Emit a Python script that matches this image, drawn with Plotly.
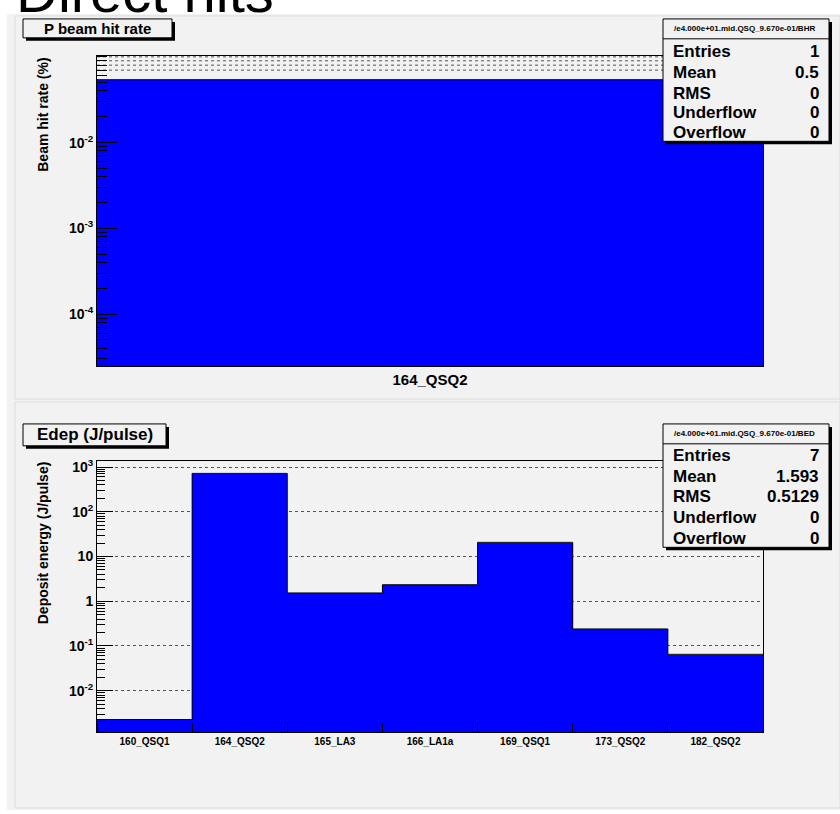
import numpy as np
import plotly.graph_objects as go

# ---- data -------------------------------------------------------------
hit_labels = ["164_QSQ2"]
hit_rate = [0.0542]                     # beam hit rate (%)

edep_labels = ["160_QSQ1", "164_QSQ2", "165_LA3", "166_LA1a",
               "169_QSQ1", "173_QSQ2", "182_QSQ2"]
edep_values = [0.00227, 720.0, 1.53, 2.34, 20.7, 0.24, 0.065]   # J/pulse

hit_tickvals = [1e-4, 1e-3, 1e-2]
hit_ticktext = ["10<sup>-4</sup>", "10<sup>-3</sup>", "10<sup>-2</sup>"]
hit_gridvals = [0.07, 0.08, 0.09, 0.1]
edep_tickvals = [1e-2, 1e-1, 1, 10, 1e2, 1e3]
edep_ticktext = ["10<sup>-2</sup>", "10<sup>-1</sup>", "1", "10",
                 "10<sup>2</sup>", "10<sup>3</sup>"]

hit_stats = [("Entries", "1"), ("Mean", "0.5"), ("RMS", "0"),
             ("Underflow", "0"), ("Overflow", "0")]
edep_stats = [("Entries", "7"), ("Mean", "1.593"), ("RMS", "0.5129"),
              ("Underflow", "0"), ("Overflow", "0")]
hit_stat_name = "/e4.000e+01.mid.QSQ_9.670e-01/BHR"
edep_stat_name = "/e4.000e+01.mid.QSQ_9.670e-01/BED"

# ---- helpers ----------------------------------------------------------
W, H = 840, 814
FONT = "Liberation Sans"
BLUE = "#0000ff"
PAD = "#f2f2f2"
GRID = "#555555"


def fx(px):
    return px / W


def fy(py):
    return 1 - py / H


def minor_log(lo_dec, hi_dec):
    return [k * 10.0 ** d for d in range(lo_dec, hi_dec + 1) for k in range(2, 10)]


fig = go.Figure()

# ---- top histogram: beam hit rate -------------------------------------
n1 = len(hit_rate)
fig.add_trace(go.Bar(x=np.arange(n1) + 0.5, y=hit_rate, width=1.0,
                     marker=dict(color=BLUE, line=dict(width=0)),
                     xaxis="x", yaxis="y", showlegend=False, hoverinfo="skip"))
fig.add_trace(go.Scatter(x=np.arange(n1 + 1), y=list(hit_rate) + [hit_rate[-1]],
                         mode="lines", line=dict(color="black", width=1, shape="hv"),
                         xaxis="x", yaxis="y", showlegend=False, hoverinfo="skip"))

# ---- bottom histogram: deposited energy -------------------------------
n2 = len(edep_values)
fig.add_trace(go.Bar(x=np.arange(n2) + 0.5, y=edep_values, width=1.0,
                     marker=dict(color=BLUE, line=dict(width=0)),
                     xaxis="x2", yaxis="y2", showlegend=False, hoverinfo="skip"))
fig.add_trace(go.Scatter(x=np.arange(n2 + 1), y=list(edep_values) + [edep_values[-1]],
                         mode="lines", line=dict(color="black", width=1, shape="hv"),
                         xaxis="x2", yaxis="y2", showlegend=False, hoverinfo="skip"))

frame = dict(showline=True, mirror=True, linecolor="black", linewidth=1,
             zeroline=False)

fig.update_layout(
    width=W, height=H,
    margin=dict(l=0, r=0, t=0, b=0),
    paper_bgcolor="white",
    plot_bgcolor="rgba(0,0,0,0)",
    bargap=0,
    font=dict(family=FONT, color="black"),
    xaxis=dict(domain=[fx(97), fx(763)], range=[0, n1], anchor="y",
               tickvals=list(np.arange(n1) + 0.5), ticktext=hit_labels,
               ticks="", showgrid=False,
               tickfont=dict(family=FONT, size=15, weight="bold"), **frame),
    yaxis=dict(domain=[fy(364), fy(52)], type="log", range=[-4.607, -0.987],
               anchor="x", tickvals=hit_tickvals, ticktext=hit_ticktext,
               ticks="inside", ticklen=20, tickcolor="black", showgrid=False,
               minor=dict(tickvals=minor_log(-5, -2) + [0.1], ticks="inside",
                          ticklen=10, tickcolor="black", showgrid=False),
               tickfont=dict(family=FONT, size=14, weight="bold"), **frame),
    xaxis2=dict(domain=[fx(97), fx(763)], range=[0, n2], anchor="y2",
                tickvals=list(np.arange(n2) + 0.5), ticktext=edep_labels,
                ticks="", showgrid=False,
                minor=dict(tickvals=list(range(n2 + 1)), ticks="inside", ticklen=9,
                           tickcolor="black", showgrid=False),
                tickfont=dict(family=FONT, size=10, weight="bold"), **frame),
    yaxis2=dict(domain=[fy(732), fy(459)], type="log", range=[-2.932, 3.14],
                anchor="x2", tickvals=edep_tickvals, ticktext=edep_ticktext,
                ticks="inside", ticklen=16, tickcolor="black",
                showgrid=True, gridcolor=GRID, griddash="dot", gridwidth=1,
                minor=dict(tickvals=minor_log(-3, 2), ticks="inside", ticklen=8,
                           tickcolor="black", showgrid=False),
                tickfont=dict(family=FONT, size=14, weight="bold"), **frame),
)

shapes = []
annotations = []

# pads
shapes.append(dict(type="rect", xref="paper", yref="paper", layer="below",
                   x0=fx(7), x1=fx(840), y0=fy(810), y1=fy(10),
                   fillcolor=PAD, line=dict(width=0)))
for (xa, ya, xb, yb) in [(15, 12, 840, 397), (15, 400, 840, 808)]:
    shapes.append(dict(type="rect", xref="paper", yref="paper", layer="below",
                       x0=fx(xa), x1=fx(xb), y0=fy(yb), y1=fy(ya),
                       fillcolor=PAD, line=dict(color="#dcdcdc", width=1)))

# dotted grid of the hit-rate pad (only the upper part shows above the bar)
for gv in hit_gridvals:
    shapes.append(dict(type="line", xref="x", yref="y", layer="below",
                       x0=0, x1=n1, y0=gv, y1=gv,
                       line=dict(color=GRID, width=1, dash="dot")))


def boxed(x0, y0, x1, y1, sh=3):
    shapes.append(dict(type="rect", xref="paper", yref="paper", layer="above",
                       x0=fx(x0 + sh), x1=fx(x1 + sh), y0=fy(y1 + sh), y1=fy(y0 + sh),
                       fillcolor="black", line=dict(width=0)))
    shapes.append(dict(type="rect", xref="paper", yref="paper", layer="above",
                       x0=fx(x0), x1=fx(x1), y0=fy(y1), y1=fy(y0),
                       fillcolor=PAD, line=dict(color="black", width=1)))


def text(x, y, s, size, xanchor="center", weight="bold", angle=0, yanchor="middle"):
    annotations.append(dict(xref="paper", yref="paper", x=fx(x), y=fy(y),
                            text=s, showarrow=False, xanchor=xanchor,
                            yanchor=yanchor, textangle=angle,
                            font=dict(family=FONT, size=size, color="black",
                                      weight=weight)))


# histogram title boxes
boxed(23, 15, 172, 34)
text(97.5, 24.5, "P beam hit rate", 15)
boxed(23, 422, 166, 444)
text(94.5, 433, "Edep (J/pulse)", 17)


# statistics boxes
def stat_box(top, bottom, sep, name, rows, row_y, size):
    boxed(663, top, 829, bottom)
    shapes.append(dict(type="line", xref="paper", yref="paper", layer="above",
                       x0=fx(663), x1=fx(829), y0=fy(sep), y1=fy(sep),
                       line=dict(color="black", width=1)))
    text(744, (top + sep) / 2, name, 8)
    for (lab, val), yy in zip(rows, row_y):
        text(671, yy, lab, size, xanchor="left")
        text(821, yy, val, size, xanchor="right")


stat_box(15, 138, 35, hit_stat_name, hit_stats, [48, 68.5, 89.5, 109, 129.5], 17)
stat_box(422, 546, 442, edep_stat_name, edep_stats, [454, 474.5, 495, 516, 537.5], 17)

# axis titles (aligned to the top end of each axis)
text(43, 52, "Beam hit rate (%)", 14, angle=-90, yanchor="top")
text(43, 458, "Deposit energy (J/pulse)", 14, angle=-90, yanchor="top")

# canvas title
text(14, -13, "Direct hits", 58, xanchor="left", weight="normal")

fig.update_layout(shapes=shapes, annotations=annotations)
fig.write_html("out.html")
